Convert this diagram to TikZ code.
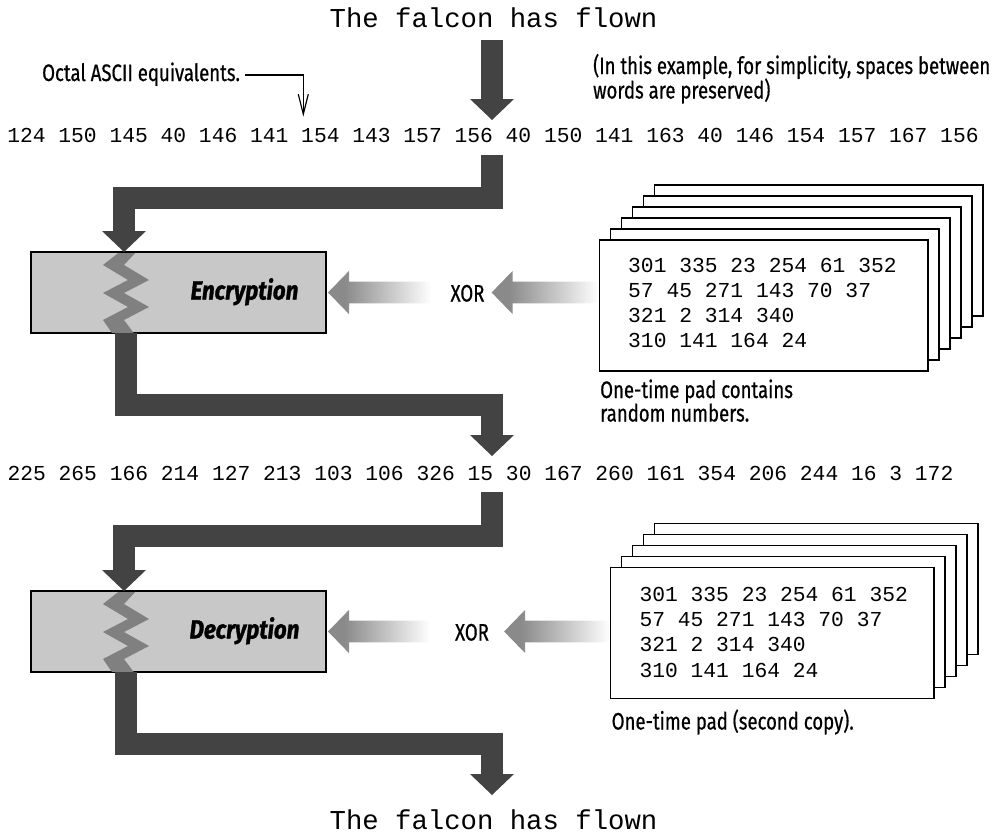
\documentclass[tikz,border=0pt]{standalone}
\usepackage{fontspec}
\setmonofont{Liberation Mono}
\newfontfamily\condsans[FakeStretch=0.78, FakeBold=0.6]{Fira Sans}
\newfontfamily\condheavy[FakeStretch=0.85, FakeBold=1.2]{Fira Sans}
\usetikzlibrary{arrows.meta,calc}
\definecolor{flowdark}{HTML}{434343}
\definecolor{boxgray}{HTML}{C8C8C8}
\definecolor{ziggray}{HTML}{808080}
\definecolor{fadegray}{HTML}{8A8A8A}
\pgfdeclarehorizontalshading{fadeleft}{100bp}{color(0bp)=(fadegray); color(33bp)=(fadegray); color(75bp)=(white); color(100bp)=(white)}
\newcommand\fadearrow[2]{%
  \path[fadefill] let \p1=(#1), \p2=(#2) in
    (\x1,\y1) -- (\x1+21pt,\y1+21.6pt) -- (\x1+21pt,\y1+10.8pt) -- (\x2,\y1+10.8pt)
    -- (\x2,\y1-10.8pt) -- (\x1+21pt,\y1-10.8pt) -- (\x1+21pt,\y1-21.6pt) -- cycle;}
\tikzset{
  flow/.style={draw=flowdark, line width=22pt, line join=miter, line cap=butt,
    -{Triangle[length=21pt,width=44pt,line width=0pt]}},
  procbox/.style={draw=black, line width=2pt, fill=boxgray, minimum width=295pt,
    minimum height=81pt, inner sep=0pt, outer sep=0pt},
  padpage/.style={draw=black, fill=white, line width=1.3pt, inner sep=0pt},
  mono/.style={font=\ttfamily\fontsize{21.3}{25.3}\selectfont, inner sep=0pt, align=left},
  bigmono/.style={font=\ttfamily\fontsize{27.3}{32}\selectfont, inner sep=0pt},
  lbltext/.style={font=\condsans\fontsize{23.8}{25}\selectfont, inner sep=0pt},
  stage/.style={font=\condheavy\bfseries\itshape\fontsize{26.3}{28}\selectfont, inner sep=0pt},
  fadefill/.style={shading=fadeleft},
  zig/.style={fill=ziggray},
  thinarrow/.style={draw=black, line width=1.2pt, -{Straight Barb[length=20pt,width=10pt]}},
}
\begin{document}
\begin{tikzpicture}[x=1pt,y=-1pt]
\useasboundingbox (0,0) rectangle (1000,838);

% texts
\node[bigmono] (falcon1) at (493.5,18) {The falcon has flown};
\node[bigmono] (falcon2) at (493.5,820) {The falcon has flown};
\node[mono] (row1) at (493,135) {124 150 145 40 146 141 154 143 157 156 40 150 141 163 40 146 154 157 167 156};
\node[mono] (row2) at (480.5,473.3) {225 265 166 214 127 213 103 106 326 15 30 167 260 161 354 206 244 16 3 172};
\node[lbltext, anchor=base west] (octal) at (42,81) {Octal ASCII equivalents.};
\node[lbltext, anchor=base west] (note1) at (593,74) {(In this example, for simplicity, spaces between};
\node[lbltext, anchor=base west] (note2) at (593,98.5) {words are preserved)};

% octal pointer
\coordinate (octy) at (0,75);
\coordinate (octtip) at (303.3,116.7);
\draw[thinarrow, shorten <=5pt] (octal.east |- octy) -| (octtip);

% top flow arrow
\coordinate (a0) at (492,40);
\coordinate (a0e) at (492,120);
\draw[flow] (a0) -- (a0e);

% ---------- encryption section
\node[procbox] (enc) at (178.5,292.5) {};
\coordinate (b1) at (124,198);
\coordinate (s1) at (492,155);
\begin{scope}
  \clip ([xshift=1pt,yshift=1pt]enc.south west) rectangle ([xshift=-1pt,yshift=-1pt]enc.north east);
  \fill[zig, shift={(enc.north -| b1)}] (-2,-2) -- (-21,13) -- (4,28) -- (-21,41) -- (4,55) -- (-21,68) -- (-10,84)
    -- (12,84) -- (0,68) -- (25,55) -- (0,41) -- (25,28) -- (0,13) -- (14,-2) -- cycle;
\end{scope}
\draw[flow] (s1) |- (b1) -- (b1 |- enc.north);
\node[stage, anchor=base] (enclbl) at (244.5,299.5) {Encryption};
\node[lbltext, anchor=base] (xor1) at (467.5,301.5) {XOR};

% pad 1
\coordinate (p1c) at (763.65,305.5);
\foreach \k in {5,4,3,2,1}
  \node[padpage, minimum width=328.7pt, minimum height=131pt] (pad1b\k) at ($(p1c)+(11*\k,-11*\k)$) {};
\node[padpage, minimum width=328.7pt, minimum height=131pt] (pad1) at (p1c) {};
\node[mono, anchor=west] (pad1txt) at (628,303) {301 335 23 254 61 352\\57 45 271 143 70 37\\321 2 314 340\\310 141 164 24};
\node[lbltext, anchor=base west] (cap1a) at (600,398) {One-time pad contains};
\node[lbltext, anchor=base west] (cap1b) at (600,421.5) {random numbers.};

\fadearrow{[xshift=2pt]enc.east}{[xshift=-19pt]xor1.west}
\fadearrow{[xshift=7pt]xor1.east |- enc.east}{pad1.west}

% encryption -> row2
\coordinate (k1) at (126,405);
\coordinate (k2) at (492,456);
\draw[flow] (enc.south -| k1) -- (k1) -| (k2);

% ---------- decryption section
\node[procbox] (dec) at (178.5,631.5) {};
\coordinate (b2) at (124,535.5);
\coordinate (s2) at (492,492);
\begin{scope}
  \clip ([xshift=1pt,yshift=1pt]dec.south west) rectangle ([xshift=-1pt,yshift=-1pt]dec.north east);
  \fill[zig, shift={(dec.north -| b2)}] (-2,-2) -- (-21,13) -- (4,28) -- (-21,41) -- (4,55) -- (-21,68) -- (-10,84)
    -- (12,84) -- (0,68) -- (25,55) -- (0,41) -- (25,28) -- (0,13) -- (14,-2) -- cycle;
\end{scope}
\draw[flow] (s2) |- (b2) -- (b2 |- dec.north);
\node[stage, anchor=base] (declbl) at (244.5,638.5) {Decryption};
\node[lbltext, anchor=base] (xor2) at (472,640.5) {XOR};

% pad 2
\coordinate (p2c) at (772.35,633);
\foreach \k in {4,3,2,1}
  \node[padpage, minimum width=323.3pt, minimum height=130.6pt] (pad2b\k) at ($(p2c)+(11*\k,-11*\k)$) {};
\node[padpage, minimum width=323.3pt, minimum height=130.6pt] (pad2) at (p2c) {};
\node[mono, anchor=west] (pad2txt) at (639.3,632.2) {301 335 23 254 61 352\\57 45 271 143 70 37\\321 2 314 340\\310 141 164 24};
\node[lbltext, anchor=base west] (cap2) at (611.5,729.5) {One-time pad (second copy).};

\fadearrow{[xshift=2pt]dec.east}{[xshift=-25pt]xor2.west}
\fadearrow{[xshift=15pt]xor2.east |- dec.east}{pad2.west}

% decryption -> plaintext
\coordinate (k3) at (126,744);
\coordinate (k4) at (492,795);
\draw[flow] (dec.south -| k3) -- (k3) -| (k4);
\end{tikzpicture}
\end{document}
